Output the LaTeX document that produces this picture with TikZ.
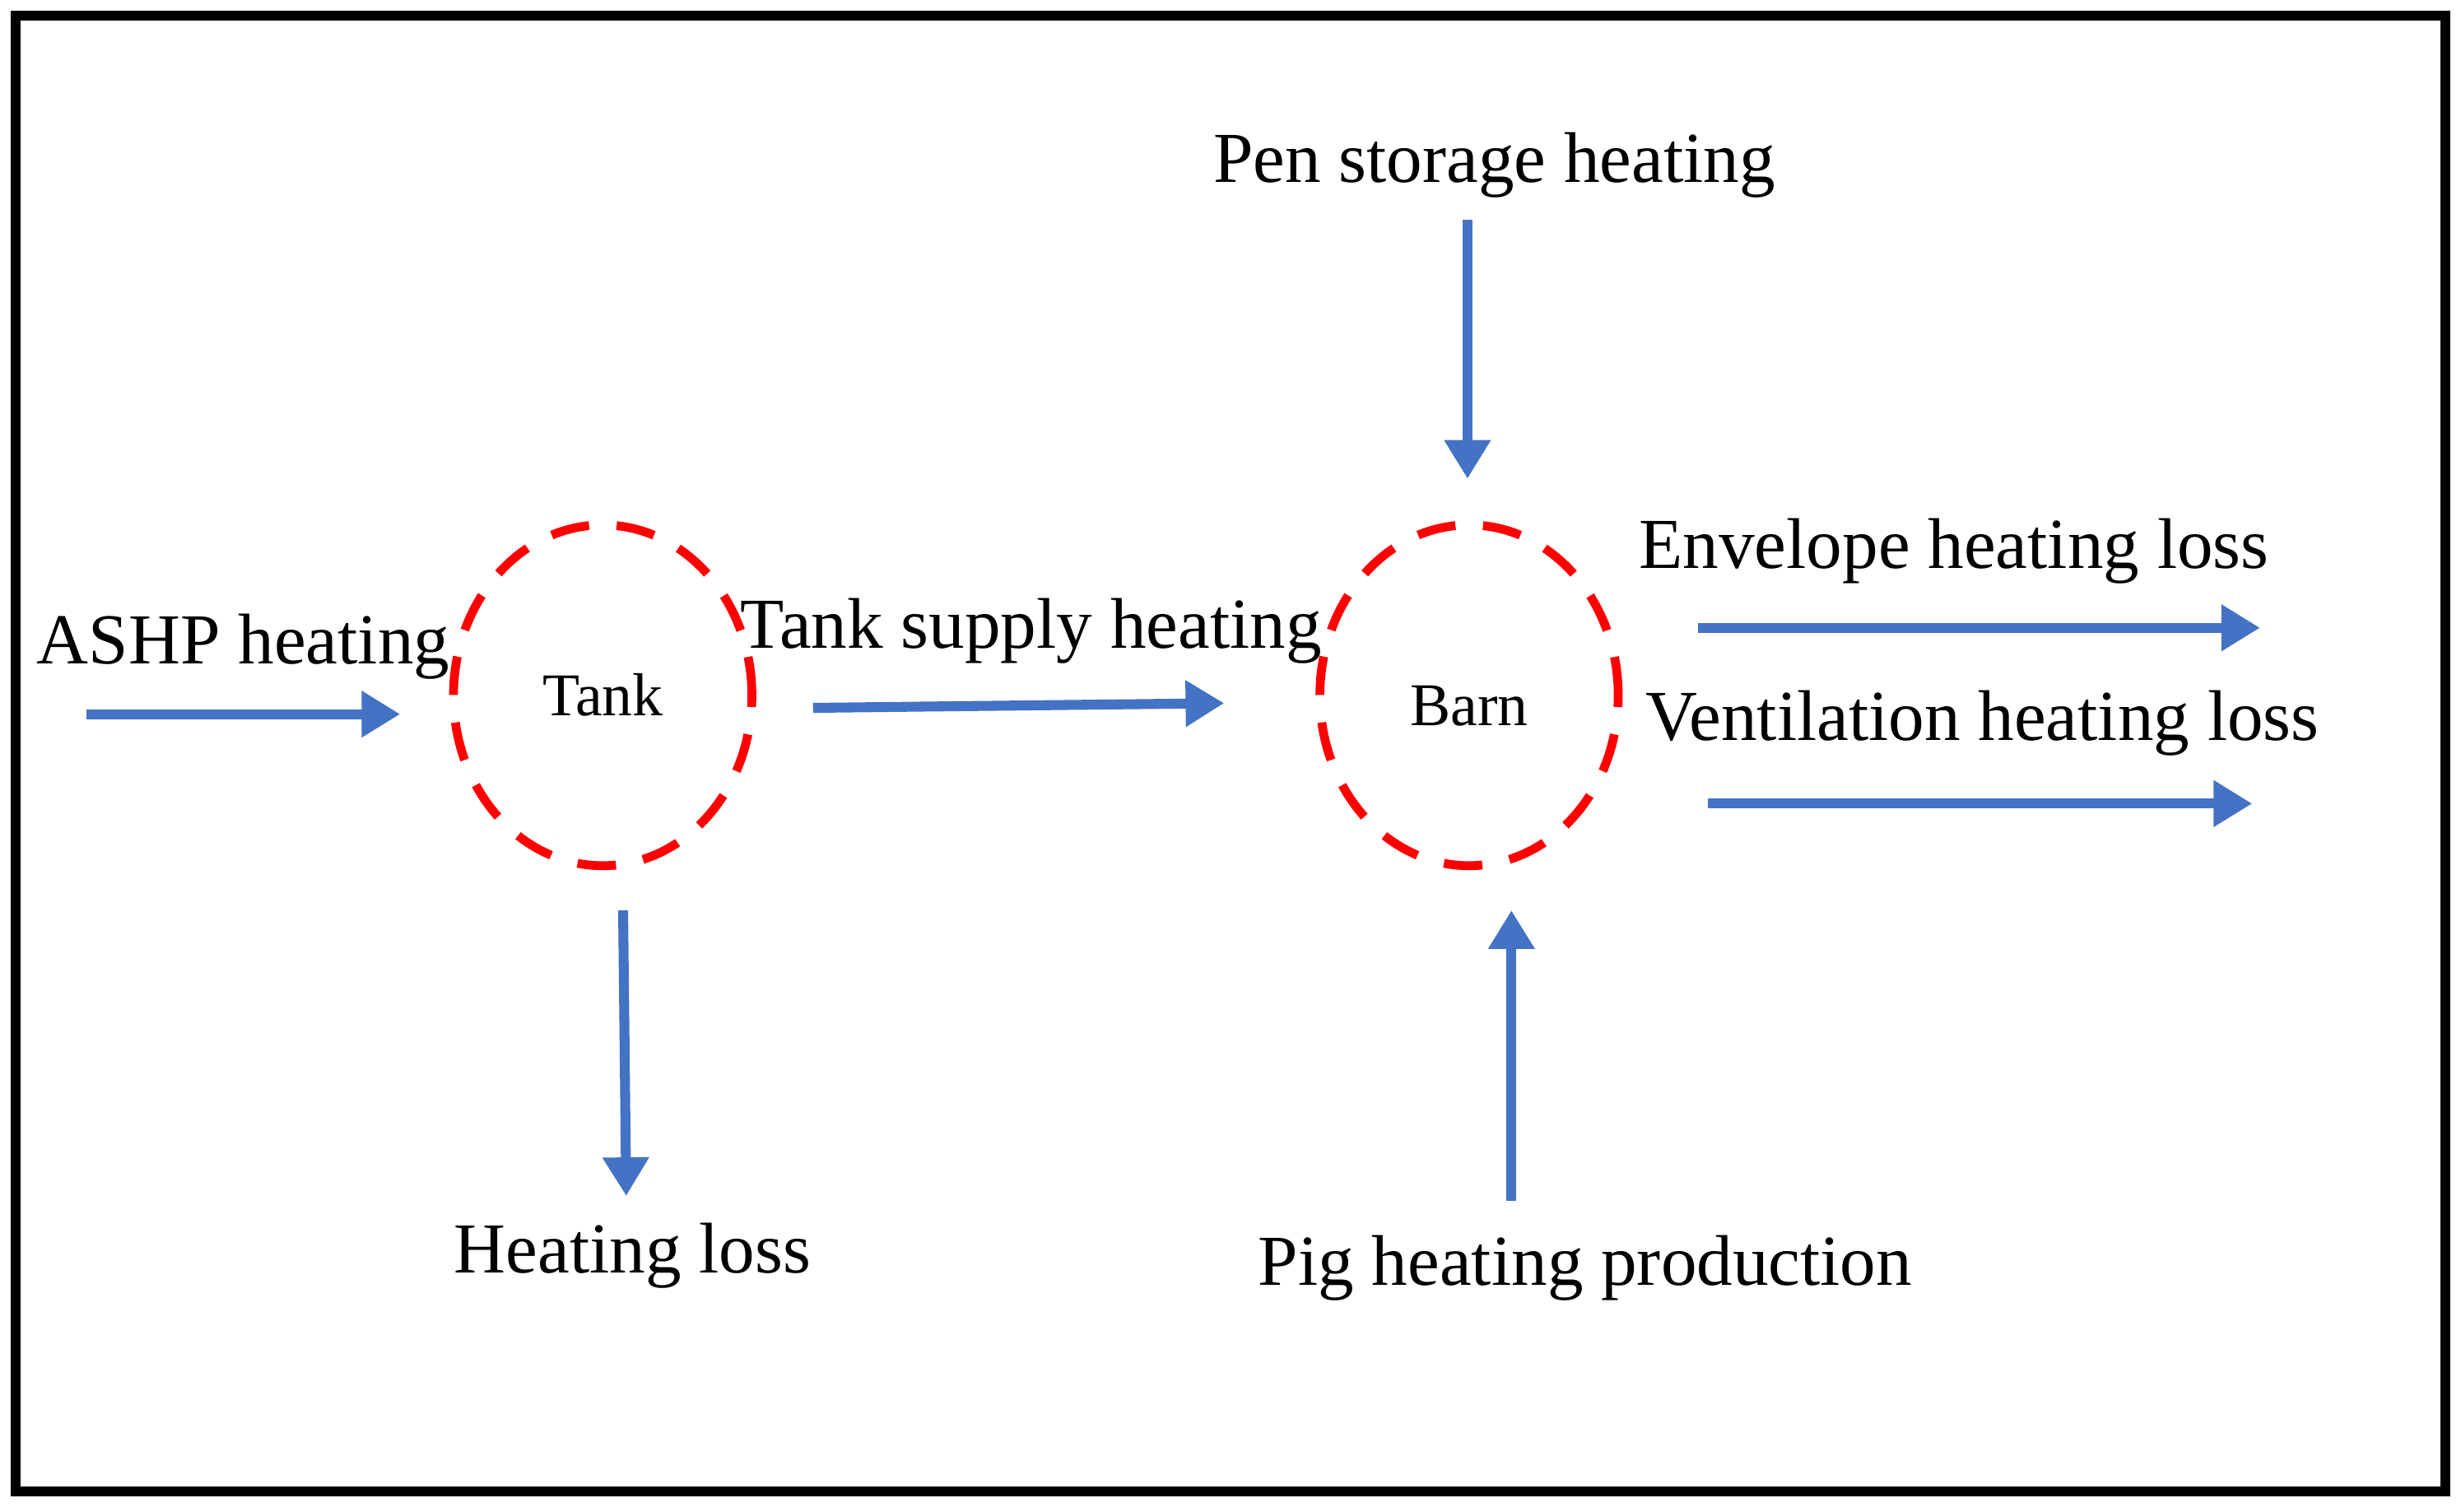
\documentclass[tikz,border=0pt]{standalone}
\usepackage{fontspec}
\setmainfont{Liberation Serif}
\usetikzlibrary{arrows.meta,shapes.geometric}
\definecolor{ablue}{RGB}{68,114,196}
\begin{document}
\begin{tikzpicture}[x=0.01cm,y=-0.01cm,
  flow/.style={draw=ablue,line width=1.8pt,-{Triangle[length=7pt,width=8pt]}},
  lab/.style={font=\fontsize{13}{15}\selectfont,inner sep=0pt},
  pool/.style={draw=red,line width=1.6pt,dash pattern=on 7pt off 5pt,ellipse,minimum width=1.9cm,minimum height=2.17cm,font=\fontsize{11}{13}\selectfont}]
\useasboundingbox (0,0) rectangle (1568,963);
\draw[line width=1.8pt] (10,10) rectangle (1558,950);
\node[pool] (tank) at (384,443) {Tank};
\node[pool] (barn) at (936,443) {};
\node[font=\fontsize{11}{13}\selectfont] (barnl) at (936,450) {Barn};
\node[lab] (ashp) at (155,412) {ASHP heating};
\node[lab] (tsh) at (657,402) {Tank supply heating};
\node[lab] (hl) at (403,800) {Heating loss};
\node[lab] (pen) at (952,105) {Pen storage heating};
\node[lab] (pig) at (1010,808) {Pig heating production};
\node[lab] (env) at (1245,351) {Envelope heating loss};
\node[lab] (ven) at (1263,461) {Ventilation heating loss};
\coordinate (a1) at (55,455); \coordinate (a2) at (255,455);
\coordinate (b1) at (518,451); \coordinate (b2) at (780,448);
\coordinate (c1) at (397,580); \coordinate (c2) at (399,762);
\coordinate (d1) at (935,140); \coordinate (d2) at (935,305);
\coordinate (e1) at (963,765); \coordinate (e2) at (963,580);
\coordinate (f1) at (1082,400); \coordinate (f2) at (1440,400);
\coordinate (g1) at (1088,512); \coordinate (g2) at (1435,512);
\draw[flow] (a1) -- (a2);
\draw[flow] (b1) -- (b2);
\draw[flow] (c1) -- (c2);
\draw[flow] (d1) -- (d2);
\draw[flow] (e1) -- (e2);
\draw[flow] (f1) -- (f2);
\draw[flow] (g1) -- (g2);
\end{tikzpicture}
\end{document}
